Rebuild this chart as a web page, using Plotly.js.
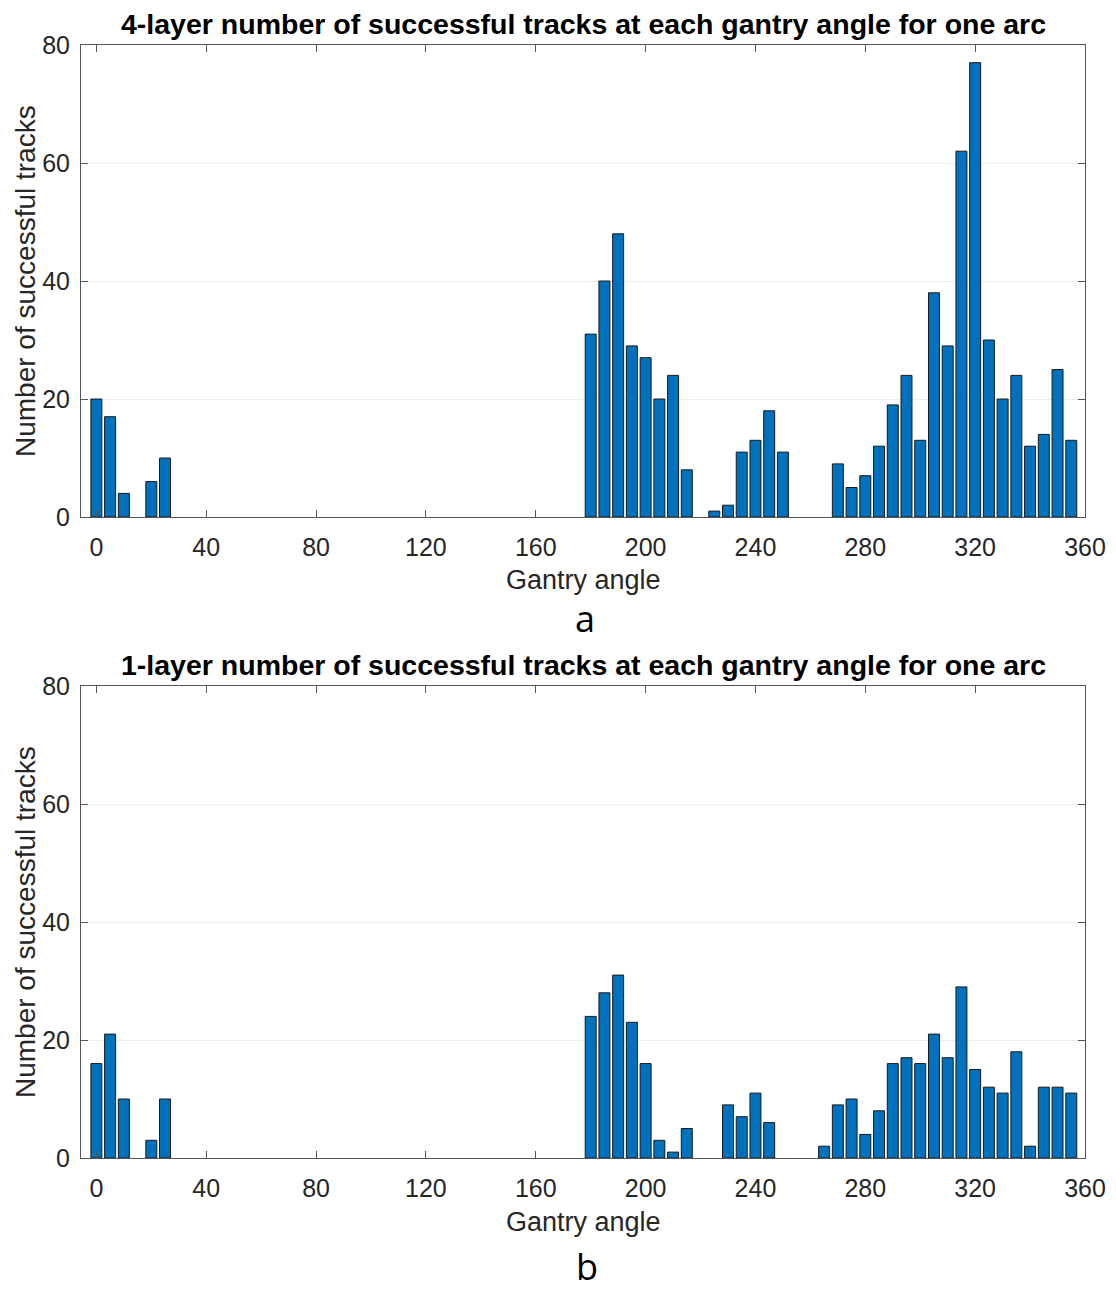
<!DOCTYPE html>
<html>
<head>
<meta charset="utf-8">
<script src="https://cdn.plot.ly/plotly-3.0.1.min.js"></script>
<style>html,body{margin:0;padding:0;background:#fff;}#chart{width:1116px;height:1292px;}</style>
</head>
<body>
<div id="chart"></div>
<script>
// Gantry angles (degrees), one bar every 5 degrees
const angles = [0,5,10,15,20,25,30,35,40,45,50,55,60,65,70,75,80,85,90,95,100,105,110,115,120,125,130,135,140,145,150,155,160,165,170,175,180,185,190,195,200,205,210,215,220,225,230,235,240,245,250,255,260,265,270,275,280,285,290,295,300,305,310,315,320,325,330,335,340,345,350,355];

// 4-layer: number of successful tracks
const tracks4 = [20,17,4,0,6,10,0,0,0,0,0,0,0,0,0,0,0,0,0,0,0,0,0,0,0,0,0,0,0,0,0,0,0,0,0,0,31,40,48,29,27,20,24,8,0,1,2,11,13,18,11,0,0,0,9,5,7,12,19,24,13,38,29,62,77,30,20,24,12,14,25,13];

// 1-layer: number of successful tracks
const tracks1 = [16,21,10,0,3,10,0,0,0,0,0,0,0,0,0,0,0,0,0,0,0,0,0,0,0,0,0,0,0,0,0,0,0,0,0,0,24,28,31,23,16,3,1,5,0,0,9,7,11,6,0,0,0,2,9,10,4,8,16,17,16,21,17,29,15,12,11,18,2,12,12,11];

const xTicks = [0,40,80,120,160,200,240,280,320,360];
const yTicks = [0,20,40,60,80];

const titleA = "4-layer number of successful tracks at each gantry angle for one arc";
const titleB = "1-layer number of successful tracks at each gantry angle for one arc";
const xLabel = "Gantry angle";
const yLabel = "Number of successful tracks";

const FONT = "Liberation Sans, Arial, sans-serif";

function barTrace(values, xa, ya) {
  return {
    type: "bar", x: angles, y: values, width: 4,
    marker: {color: "#0072BD", line: {color: "#1a1a1a", width: values.map(v => v === 0 ? 0 : 1)}},
    xaxis: xa, yaxis: ya, hoverinfo: "x+y"
  };
}

const traces = [barTrace(tracks4, "x", "y"), barTrace(tracks1, "x2", "y2")];

function xAxis(anchor) {
  return {
    anchor: anchor, domain: [0, 1], range: [-5.6, 360],
    tickmode: "array", tickvals: xTicks, ticktext: xTicks.map(String),
    ticks: "inside", ticklen: 7, tickcolor: "#555", tickwidth: 1,
    showline: true, linecolor: "#555", linewidth: 1, mirror: "ticks",
    showgrid: false, zeroline: false, layer: "above traces",
    tickfont: {family: FONT, size: 25, color: "#262626"},
    ticklabelstandoff: 8
  };
}
function yAxis(anchor, domain) {
  return {
    anchor: anchor, domain: domain, range: [0, 80],
    tickmode: "array", tickvals: yTicks, ticktext: yTicks.map(String),
    ticks: "inside", ticklen: 7, tickcolor: "#555", tickwidth: 1,
    showline: true, linecolor: "#555", linewidth: 1, mirror: "ticks",
    showgrid: true, gridcolor: "#ededed", gridwidth: 1, zeroline: false, layer: "above traces",
    tickfont: {family: FONT, size: 25, color: "#262626"},
    ticklabelstandoff: 5
  };
}

// plot area: x 81..1085 px, y (top) 45..517, (bottom) 686..1158
const L = 81, R = 1085, T = 45, B = 1158, H = 1292;
const plotH = B - T;
const py = v => (B - v) / plotH;      // pixel y -> paper y
const px = v => (v - L) / (R - L);    // pixel x -> paper x

const layout = {
  width: 1116, height: 1292,
  margin: {l: L, r: 1116 - R, t: T, b: H - B},
  paper_bgcolor: "#fff", plot_bgcolor: "#fff",
  showlegend: false,
  bargap: 0,
  xaxis: xAxis("y"),
  yaxis: yAxis("x", [py(517), 1]),
  xaxis2: xAxis("y2"),
  yaxis2: yAxis("x2", [0, py(686)]),
  annotations: [
    {text: "<b>" + titleA + "</b>", xref: "paper", yref: "paper", x: 0.5, y: py(24), showarrow: false, xanchor: "center", yanchor: "middle", font: {family: FONT, size: 28.5, color: "#000"}},
    {text: "<b>" + titleB + "</b>", xref: "paper", yref: "paper", x: 0.5, y: py(665), showarrow: false, xanchor: "center", yanchor: "middle", font: {family: FONT, size: 28.5, color: "#000"}},
    {text: xLabel, xref: "paper", yref: "paper", x: px(583), y: py(580), showarrow: false, xanchor: "center", yanchor: "middle", font: {family: FONT, size: 27, color: "#262626"}},
    {text: xLabel, xref: "paper", yref: "paper", x: px(583), y: py(1222), showarrow: false, xanchor: "center", yanchor: "middle", font: {family: FONT, size: 27, color: "#262626"}},
    {text: yLabel, xref: "paper", yref: "paper", x: px(25), y: py(281), showarrow: false, textangle: -90, xanchor: "center", yanchor: "middle", font: {family: FONT, size: 28, color: "#262626"}},
    {text: yLabel, xref: "paper", yref: "paper", x: px(25), y: py(922), showarrow: false, textangle: -90, xanchor: "center", yanchor: "middle", font: {family: FONT, size: 28, color: "#262626"}},
    {text: "a", xref: "paper", yref: "paper", x: px(585), y: py(618), showarrow: false, xanchor: "center", yanchor: "middle", font: {family: "Open Sans, Noto Sans, sans-serif", size: 36, color: "#000"}},
    {text: "b", xref: "paper", yref: "paper", x: px(587), y: py(1266), showarrow: false, xanchor: "center", yanchor: "middle", font: {family: "Open Sans, Noto Sans, sans-serif", size: 36, color: "#000"}}
  ]
};

Plotly.newPlot("chart", traces, layout, {staticPlot: true, displayModeBar: false});
</script>
</body>
</html>
